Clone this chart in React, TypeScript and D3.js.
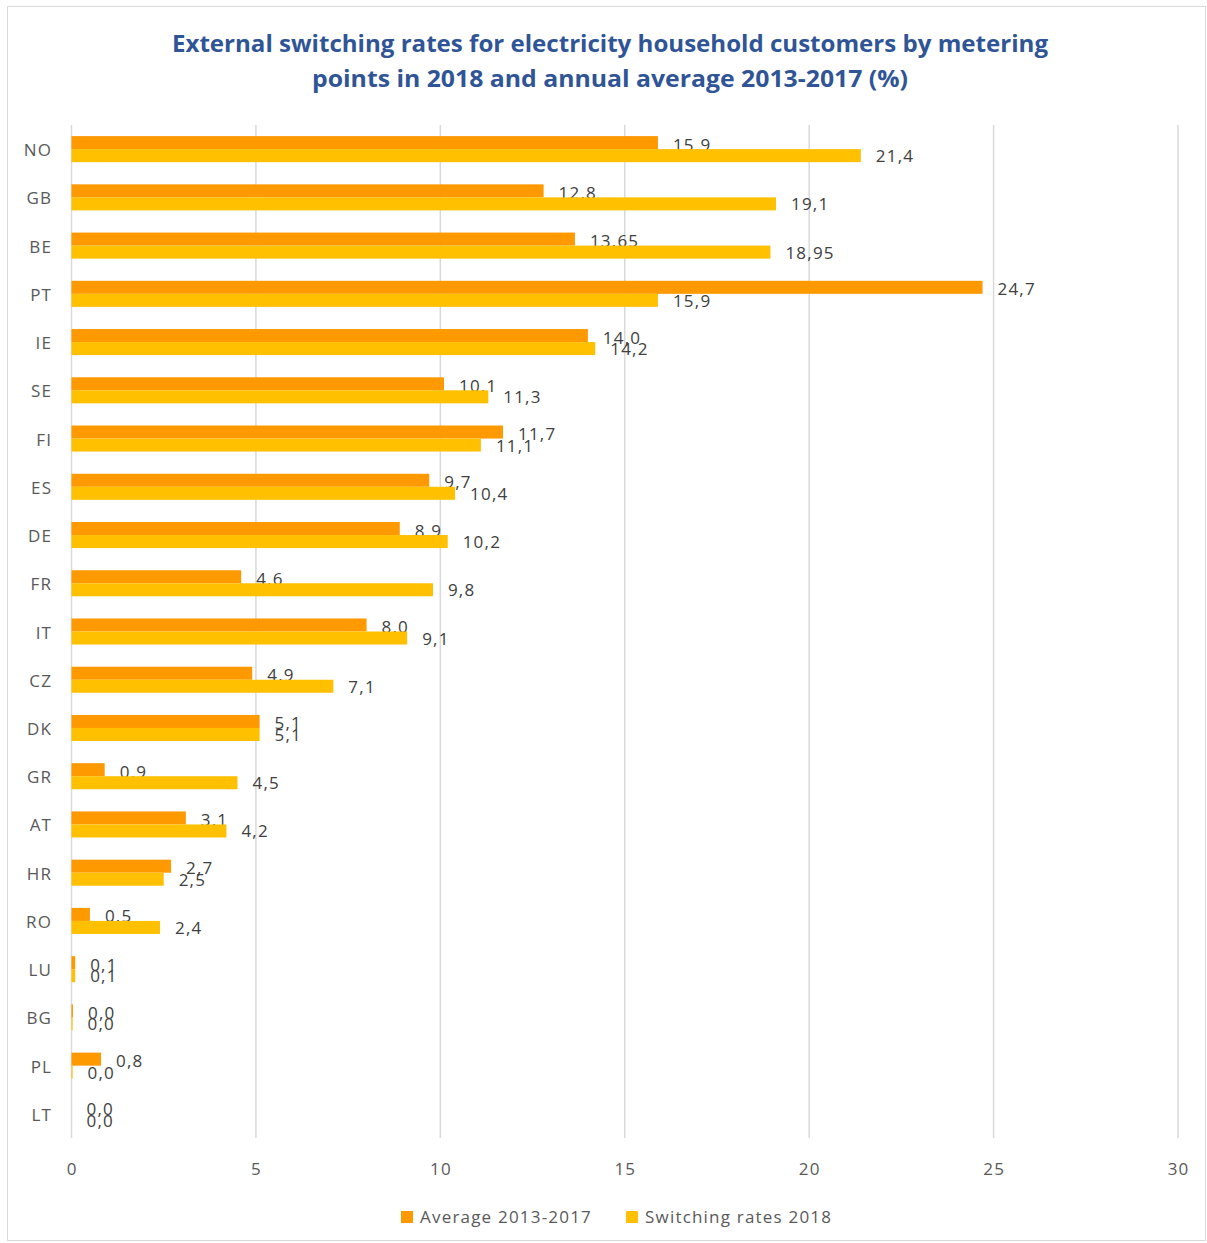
import React from "react";
import * as d3 from "d3";

const countries = ["NO","GB","BE","PT","IE","SE","FI","ES","DE","FR","IT","CZ","DK","GR","AT","HR","RO","LU","BG","PL","LT"];
const avg2013_2017 = [15.9,12.8,13.65,24.7,14.0,10.1,11.7,9.7,8.9,4.6,8.0,4.9,5.1,0.9,3.1,2.7,0.5,0.1,0.04,0.8,0];
const rates2018 = [21.4,19.1,18.95,15.9,14.2,11.3,11.1,10.4,10.2,9.8,9.1,7.1,5.1,4.5,4.2,2.5,2.4,0.1,0.03,0.03,0];
const xTicks = [0,5,10,15,20,25,30];
const seriesNames = ["Average 2013-2017","Switching rates 2018"];
const seriesColors = ["#FF9900","#FFC000"];
const titleLines = ["External switching rates for electricity household customers by metering","points in 2018 and annual average 2013-2017 (%)"];
const titleWidths = [876, 596];

const fmt = (v: number) => {
  const dec = v >= 1 && Math.round(v * 100) % 10 !== 0 ? 2 : 1;
  return v.toFixed(dec).replace(".", ",");
};

export default function App() {
  const W = 1207, H = 1243;
  const left = 71.5, right = 1178, top = 125, bottom = 1138;
  const x = d3.scaleLinear().domain([0, 30]).range([left, right]);
  const y = d3.scaleBand().domain(countries).range([top, bottom]).paddingInner(0.46).paddingOuter(0.23);
  const sub = d3.scaleBand().domain(["0","1"]).range([0, y.bandwidth()]);
  const font = "'Open Sans', Lato, sans-serif";
  const txt = "#595959";
  const ls = 1.2;
  const series = [avg2013_2017, rates2018];
  return (
    <svg width={W} height={H} style={{ position: "absolute", left: 0, top: 0, background: "#fff" }} fontFamily={font}>
      <rect x={7.5} y={6.5} width={1198} height={1234} fill="#fff" stroke="#D9D9D9" strokeWidth={1} />
      {titleLines.map((t, i) => (
        <text key={i} x={610} y={52 + i * 35} textAnchor="middle" fontSize={24} fontWeight="bold" fill="#2F5597"
          textLength={titleWidths[i]} lengthAdjust="spacingAndGlyphs">{t}</text>
      ))}
      {xTicks.map((t) => (
        <g key={t}>
          <line x1={x(t)} x2={x(t)} y1={top} y2={bottom} stroke="#D9D9D9" strokeWidth={1.5} />
          <text x={x(t) + ls / 2} y={1175} textAnchor="middle" fontSize={17} fill={txt} letterSpacing={ls}>{t}</text>
        </g>
      ))}
      {countries.map((c, i) => {
        const y0 = y(c)!;
        return (
          <g key={c}>
            <text x={51 + ls} y={y0 + y.bandwidth() / 2 + 7} textAnchor="end" fontSize={17} fill={txt} letterSpacing={ls}>{c}</text>
            {series.map((s, k) => {
              const v = s[i];
              const by = y0 + sub(String(k))!;
              const bh = sub.bandwidth();
              return (
                <g key={k}>
                  {v > 0 && <rect x={x(0)} y={by} width={x(v) - x(0)} height={bh} fill={seriesColors[k]} />}
                  <text x={x(v) + 15} y={by + bh / 2 + (k === 0 ? 8 : 6.5)} fontSize={17} fill="#404040" letterSpacing={ls}>{fmt(v)}</text>
                </g>
              );
            })}
          </g>
        );
      })}
      {seriesNames.map((n, k) => {
        const lx = k === 0 ? 401 : 626;
        return (
          <g key={n}>
            <rect x={lx} y={1211} width={12} height={12} fill={seriesColors[k]} />
            <text x={lx + 19} y={1223} fontSize={17} fill={txt} letterSpacing={ls}>{n}</text>
          </g>
        );
      })}
    </svg>
  );
}
